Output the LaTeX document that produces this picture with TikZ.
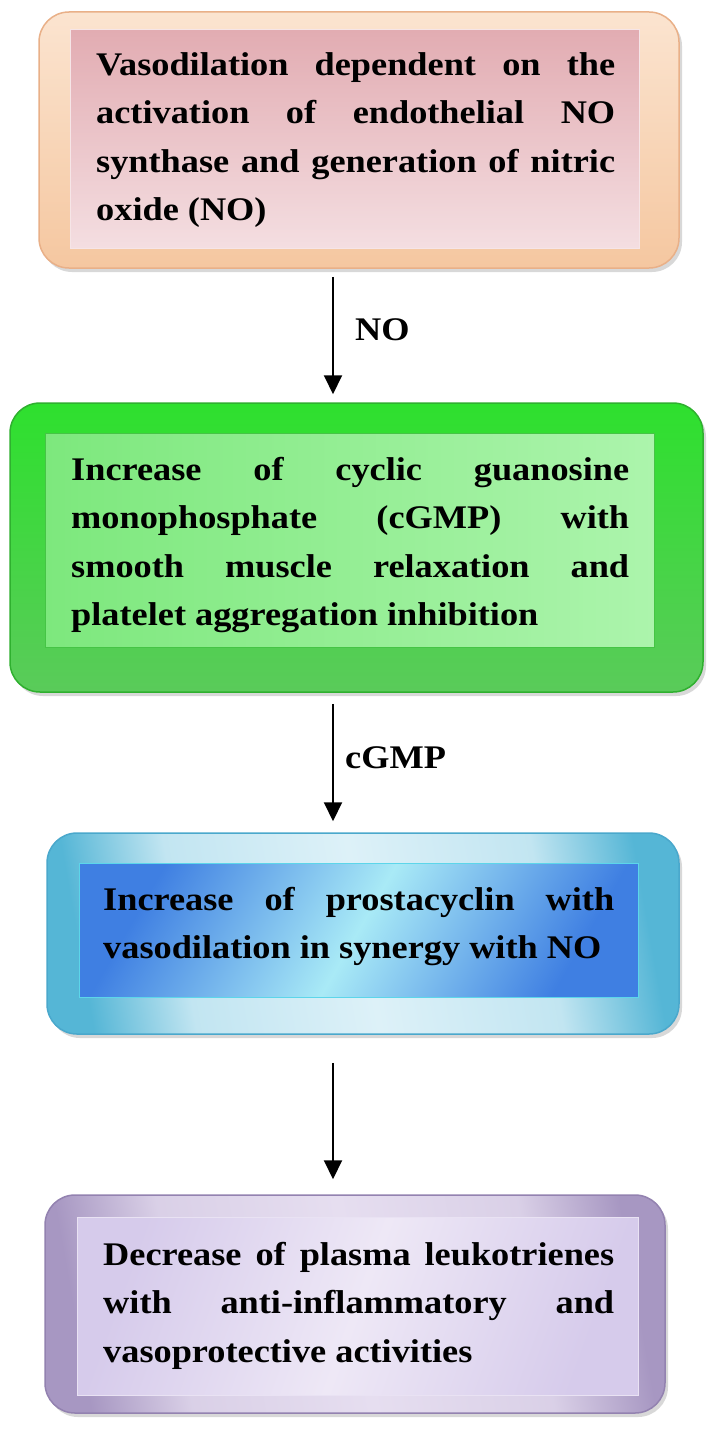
\documentclass[tikz,border=0pt]{standalone}
\usepackage{fontspec}
\setmainfont{Liberation Serif}[FakeStretch=1.1]
\usetikzlibrary{arrows.meta,shadows,calc}
\definecolor{pchT}{HTML}{FBE4D0}
\definecolor{pchB}{HTML}{F5C7A0}
\definecolor{pchD}{HTML}{E9B088}
\definecolor{pnkT}{HTML}{E2ACB2}
\definecolor{pnkB}{HTML}{F4DEE1}
\definecolor{grnT}{HTML}{2EE02E}
\definecolor{grnB}{HTML}{5ACB5A}
\definecolor{grnD}{HTML}{2FB02F}
\definecolor{lgrT}{HTML}{7DE87D}
\definecolor{lgrB}{HTML}{ACF4AC}
\definecolor{lgrD}{HTML}{45C445}
\definecolor{cyE}{HTML}{55B6D6}
\definecolor{cyM}{HTML}{DDF1F8}
\definecolor{cyD}{HTML}{4AA8CC}
\definecolor{blE}{HTML}{3F7FE2}
\definecolor{blM}{HTML}{A9EAF6}
\definecolor{blD}{HTML}{5CD6EA}
\definecolor{lvE}{HTML}{A797C2}
\definecolor{lvM}{HTML}{E6DEF0}
\definecolor{lvD}{HTML}{9382B0}
\definecolor{lv2E}{HTML}{D6CBEB}
\definecolor{lv2M}{HTML}{EEE8F6}
\definecolor{lv2D}{HTML}{E9E2F3}
\pgfdeclarehorizontalshading{cyout}{100bp}{color(0bp)=(cyE); color(25bp)=(cyE); color(34bp)=(cyM!80!cyE); color(50bp)=(cyM); color(66bp)=(cyM!80!cyE); color(75bp)=(cyE); color(100bp)=(cyE)}
\pgfdeclarehorizontalshading{blin}{100bp}{color(0bp)=(blE); color(25bp)=(blE); color(50bp)=(blM); color(75bp)=(blE); color(100bp)=(blE)}
\pgfdeclarehorizontalshading{lvout}{100bp}{color(0bp)=(lvE); color(25bp)=(lvE); color(34bp)=(lvM!80!lvE); color(50bp)=(lvM); color(66bp)=(lvM!80!lvE); color(75bp)=(lvE); color(100bp)=(lvE)}
\pgfdeclarehorizontalshading{lvin}{100bp}{color(0bp)=(lv2E); color(25bp)=(lv2E); color(50bp)=(lv2M); color(75bp)=(lv2E); color(100bp)=(lv2E)}
\begin{document}
\begin{tikzpicture}[x=1pt,y=-1pt,
  outerbox/.style={rounded corners=30pt, line width=1.5pt, inner sep=0pt,
    drop shadow={shadow xshift=3pt, shadow yshift=-4pt, opacity=0.3}},
  innerbox/.style={line width=1pt, inner sep=0pt},
  txt/.style={text width=#1, align=justify, inner sep=0pt, anchor=base west,
    font=\fontsize{33}{48.5}\selectfont\bfseries},
  arr/.style={line width=2pt, -{Triangle[width=18pt,length=19pt]}},
  lbl/.style={anchor=base west, inner sep=0pt, font=\fontsize{33}{40}\selectfont\bfseries}
]
\useasboundingbox (0,0) rectangle (709,1429);
\fill[white] (0,0) rectangle (709,1429);
\coordinate (ax) at (333,0);

% Box 1
\node[outerbox, draw=pchD, top color=pchT, bottom color=pchB,
  minimum width=640pt, minimum height=256pt] (b1) at (359,140) {};
\node[innerbox, draw=pnkB!80!white, top color=pnkT, bottom color=pnkB,
  minimum width=569pt, minimum height=218pt] (b1i) at (354.5,139) {};
\node[txt=519pt] (t1) at (96,75) {Vasodilation dependent on the\linebreak
  activation of endothelial NO\linebreak synthase and generation of nitric\linebreak oxide (NO)};

% Box 2
\node[outerbox, draw=grnD, top color=grnT, bottom color=grnB,
  minimum width=693pt, minimum height=289pt] (b2) at (356.5,547.5) {};
\node[innerbox, draw=lgrD, left color=lgrT, right color=lgrB,
  minimum width=609pt, minimum height=214pt] (b2i) at (349.5,540) {};
\node[txt=558pt] (t2) at (71,480) {Increase of cyclic guanosine\linebreak
  monophosphate (cGMP) with\linebreak smooth muscle relaxation and\linebreak
  platelet aggregation inhibition};

% Box 3
\node[outerbox, draw=cyD, shade, shading=cyout, shading angle=10,
  minimum width=632pt, minimum height=201pt] (b3) at (363,933.5) {};
\node[innerbox, draw=blD, shade, shading=blin, shading angle=-30,
  minimum width=559pt, minimum height=134pt] (b3i) at (358.5,930) {};
\node[txt=511pt] (t3) at (103,910) {Increase of prostacyclin with\linebreak
  vasodilation in synergy with NO};

% Box 4
\node[outerbox, draw=lvD, shade, shading=lvout, shading angle=10,
  minimum width=620pt, minimum height=218pt] (b4) at (355,1304) {};
\node[innerbox, draw=lv2D, shade, shading=lvin, shading angle=-20,
  minimum width=561pt, minimum height=178pt] (b4i) at (357.5,1306) {};
\node[txt=511pt] (t4) at (103,1265) {Decrease of plasma leukotrienes\linebreak
  with anti-inflammatory and\linebreak vasoprotective activities};

% Connectors
\draw[arr, shorten <=8pt, shorten >=8pt] (b1.south -| ax) -- (b2.north -| ax);
\draw[arr, shorten <=11pt, shorten >=11pt] (b2.south -| ax) -- (b3.north -| ax);
\draw[arr, shorten <=28pt, shorten >=15pt] (b3.south -| ax) -- (b4.north -| ax);

% Labels
\node[lbl] (l1) at (355,340) {NO};
\node[lbl] (l2) at (345,768) {cGMP};
\end{tikzpicture}
\end{document}
